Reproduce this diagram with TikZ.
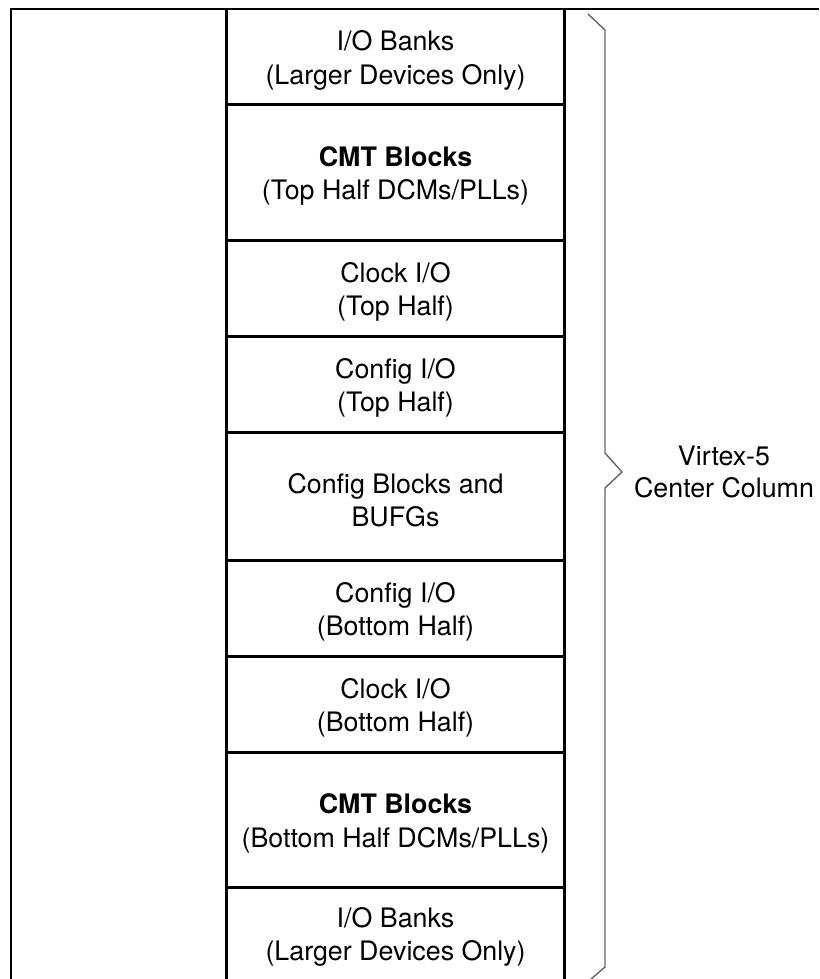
\documentclass[tikz,border=0pt]{standalone}
\usepackage{fontspec}
\setmainfont{TeX Gyre Heros}

\begin{document}
\begin{tikzpicture}[x=0.5pt,y=-0.5pt,
    blk/.style={minimum width=168.5pt, inner sep=0pt, align=center,
      font=\fontsize{13.4}{16.6}\selectfont},
    txt/.style={align=center, inner sep=0pt, font=\fontsize{13.4}{16.6}\selectfont},
    frame/.style={line width=1.3pt},
    brace/.style={line width=0.7pt, black!60}]
  \useasboundingbox (0,0) rectangle (819,979);
  % blocks of the center column
  \node[blk, minimum height=47.5pt] (iotop) at (395.5,56.5) {};
  \node[blk, minimum height=68pt] (cmttop) at (395.5,172) {};
  \node[blk, minimum height=48pt] (clktop) at (395.5,288) {};
  \node[blk, minimum height=48pt] (cfgtop) at (395.5,384) {};
  \node[blk, minimum height=64pt] (cfgblk) at (395.5,496) {};
  \node[blk, minimum height=48pt] (cfgbot) at (395.5,608) {};
  \node[blk, minimum height=48pt] (clkbot) at (395.5,704) {};
  \node[blk, minimum height=67.5pt] (cmtbot) at (395.5,819.5) {};
  \node[blk, minimum height=46pt] (iobot) at (395.5,933) {};
  \node[txt] (iotop-t) at ([yshift=-2pt]iotop.center) {I/O Banks\\(Larger Devices Only)};
  \node[txt] (cmttop-t) at ([yshift=-2pt]cmttop.center) {\textbf{CMT Blocks}\\(Top Half DCMs/PLLs)};
  \node[txt] (clktop-t) at ([yshift=-2pt]clktop.center) {Clock I/O\\(Top Half)};
  \node[txt] (cfgtop-t) at ([yshift=-2pt]cfgtop.center) {Config I/O\\(Top Half)};
  \node[txt] (cfgblk-t) at ([yshift=-2pt]cfgblk.center) {Config Blocks and\\BUFGs};
  \node[txt] (cfgbot-t) at ([yshift=-2pt]cfgbot.center) {Config I/O\\(Bottom Half)};
  \node[txt] (clkbot-t) at ([yshift=-2pt]clkbot.center) {Clock I/O\\(Bottom Half)};
  \node[txt] (cmtbot-t) at ([yshift=-2pt]cmtbot.center) {\textbf{CMT Blocks}\\(Bottom Half DCMs/PLLs)};
  \node[txt] (iobot-t) at ([yshift=-2pt]iobot.center) {I/O Banks\\(Larger Devices Only)};
  \foreach \n in {iotop,cmttop,clktop,cfgtop,cfgblk,cfgbot,clkbot,cmtbot}
    \draw[frame] (\n.south west) -- (\n.south east);
  \draw[frame] (iotop.north west) -- (iobot.south west);
  \draw[frame] (iotop.north east) -- (iobot.south east);
  % outer frame
  \draw[frame] (11,979) -- (11,9) -- (819,9);
  % brace and label
  \coordinate (tip) at (622,472);
  \draw[brace] (588,14) -- (605,30) -- (605,453) -- (tip) -- (605,488) -- (605,967) -- (591,979);
  \node[txt, font=\fontsize{13.4}{15.6}\selectfont] (col) at (724,472) {Virtex-5\\Center Column};
\end{tikzpicture}
\end{document}
